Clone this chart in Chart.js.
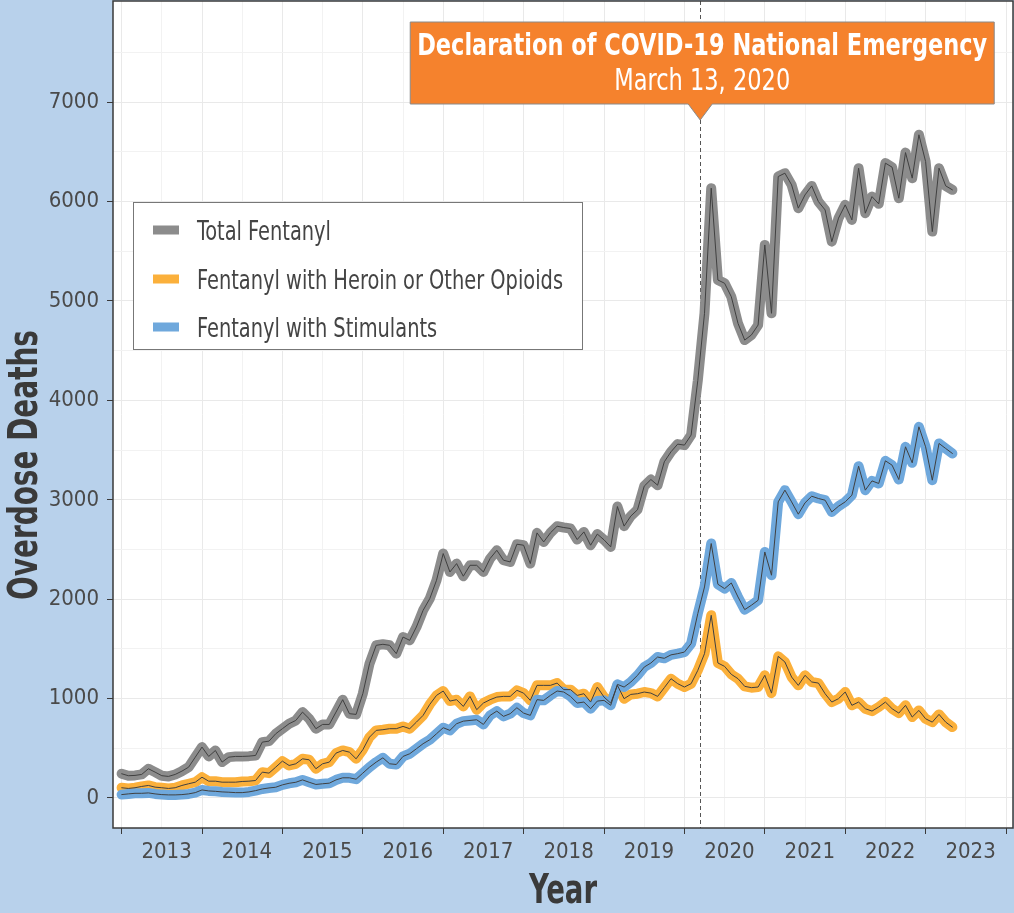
<!DOCTYPE html>
<html><head><meta charset="utf-8">
<style>html,body{margin:0;padding:0;background:#b8d1eb;}canvas{display:block;}</style>
<script src="https://cdn.jsdelivr.net/npm/chart.js@4.4.1/dist/chart.umd.min.js"></script>
</head><body>
<canvas id="c" width="1014" height="913" style="width:1014px;height:913px"></canvas>
<script>
// ---- data (monthly overdose deaths, Jan 2013 onward) ----
const START_YEAR = 2013;
const totalFentanyl = [
 244,224,227,237,294,260,224,217,237,270,310,411,
 512,418,478,361,411,418,418,421,428,562,572,646,
 697,747,780,864,797,697,740,740,864,989,848,841,
 1049,1351,1536,1546,1536,1452,1619,1586,1720,1888,2006,2190,
 2459,2274,2358,2231,2341,2341,2274,2409,2492,2392,2375,2553,
 2543,2358,2667,2576,2667,2734,2721,2711,2600,2677,2543,2655,
 2597,2526,2932,2735,2836,2900,3137,3204,3147,3382,3483,3560,
 3550,3651,4200,4876,6135,5211,5178,5043,4775,4607,4658,4758,
 5564,4876,6252,6286,6168,5934,6067,6158,6000,5916,5597,5833,
 5967,5816,6336,5883,6050,5977,6387,6346,6034,6493,6236,6672,
 6403,5698,6336,6158,6118
];
const heroinOther = [
 103,96,103,116,126,109,103,96,103,126,143,159,
 209,169,169,159,159,159,166,169,176,260,250,310,
 371,327,344,394,384,294,344,361,451,478,461,394,
 485,612,680,687,697,697,720,697,763,831,942,1032,
 1076,975,989,921,1022,888,955,989,1015,1022,1022,1083,
 1055,982,1133,1133,1133,1156,1090,1090,1032,1049,965,1116,
 1015,955,1133,999,1042,1049,1066,1055,1022,1110,1200,1150,
 1116,1150,1284,1452,1838,1358,1324,1244,1200,1123,1110,1116,
 1234,1055,1425,1368,1217,1133,1234,1167,1156,1049,965,999,
 1066,932,965,898,874,915,965,898,854,932,814,881,
 797,763,841,763,713
];
const stimulants = [
 34,41,47,47,51,41,34,31,31,34,41,54,
 81,71,67,61,58,54,54,61,74,91,101,108,
 132,148,158,182,158,136,143,149,182,203,203,189,
 250,310,361,404,344,337,418,445,495,546,586,646,
 707,680,747,773,780,787,740,831,874,821,848,908,
 854,831,989,982,1032,1076,1066,1022,955,965,898,975,
 982,932,1143,1116,1166,1234,1317,1358,1418,1405,1440,1452,
 1468,1553,1855,2123,2560,2150,2106,2163,2022,1895,1939,1989,
 2475,2241,2979,3097,2979,2855,2969,3036,3013,2996,2878,2935,
 2979,3046,3338,3097,3190,3164,3392,3348,3204,3533,3372,3734,
 3533,3197,3567,3516,3466
];
const seriesLabels = ['Total Fentanyl', 'Fentanyl with Heroin or Other Opioids', 'Fentanyl with Stimulants'];
const yearLabels = ['2013','2014','2015','2016','2017','2018','2019','2020','2021','2022','2023'];
const yTickLabels = ['0','1000','2000','3000','4000','5000','6000','7000'];
const covidDate = 2020 + (31 + 29 + 12) / 366; // March 13, 2020
const annotationTitle = 'Declaration of COVID-19 National Emergency';
const annotationSub = 'March 13, 2020';
const xTitle = 'Year';
const yTitle = 'Overdose Deaths';

// ---- styling ----
const FONT = "'DejaVu Sans Condensed', 'Liberation Sans Narrow', 'Roboto', sans-serif";
const BG = '#b8d1eb';
const seriesColors = ['#8c8c8c', '#fbb03b', '#6fa8dc'];
const innerLine = '#404040';

const monthPos = totalFentanyl.map((_, i) => START_YEAR + i / 12);
const toPts = arr => arr.map((v, i) => ({x: monthPos[i], y: v}));

function ds(values, color, width, order, label) {
  return {label, data: toPts(values), borderColor: color, backgroundColor: color,
    borderWidth: width, pointRadius: 0, pointHoverRadius: 0, fill: false, tension: 0,
    borderJoinStyle: 'round', borderCapStyle: 'round', order};
}

const xTickVals = [];
for (let y = 2013; y <= 2024; y += 0.5) xTickVals.push(y);
const yTickVals = [];
for (let v = 0; v <= 7500; v += 500) yTickVals.push(v);

// draw text squeezed horizontally to a target width (condensed face look)
function fillFit(ctx, text, x, y, targetW, align) {
  const w = ctx.measureText(text).width;
  const sx = Math.min(1, targetW / w);
  ctx.save();
  ctx.translate(x, y);
  ctx.scale(sx, 1);
  ctx.textAlign = align;
  ctx.fillText(text, 0, 0);
  ctx.restore();
  return sx;
}

const bgPlugin = {
  id: 'bg',
  beforeDraw(chart) {
    const {ctx, chartArea: a} = chart;
    ctx.save();
    ctx.fillStyle = BG;
    ctx.fillRect(0, 0, chart.width, chart.height);
    ctx.fillStyle = '#ffffff';
    ctx.fillRect(a.left, a.top, a.right - a.left, a.bottom - a.top);
    ctx.restore();
  },
  beforeDatasetsDraw(chart) {
    const {ctx, chartArea: a} = chart;
    const x = Math.round(chart.scales.x.getPixelForValue(covidDate)) + 0.5;
    ctx.save();
    ctx.strokeStyle = '#555';
    ctx.lineWidth = 1;
    ctx.setLineDash([4, 3]);
    ctx.beginPath(); ctx.moveTo(x, a.top); ctx.lineTo(x, a.bottom); ctx.stroke();
    ctx.restore();
  },
  afterDatasetsDraw(chart) {
    const {ctx, chartArea: a} = chart;
    // plot frame
    ctx.save();
    ctx.strokeStyle = '#3a3a3a';
    ctx.lineWidth = 1.5;
    ctx.strokeRect(a.left, a.top, a.right - a.left, a.bottom - a.top);
    ctx.restore();

    // annotation callout
    const cx = chart.scales.x.getPixelForValue(covidDate);
    const bl = cx - 290, br = cx + 294, bt = 22, bb = 104, tip = 120;
    ctx.save();
    ctx.fillStyle = '#f5822d';
    ctx.strokeStyle = '#8a8a8a';
    ctx.lineWidth = 1;
    ctx.beginPath();
    ctx.moveTo(bl, bt); ctx.lineTo(br, bt); ctx.lineTo(br, bb);
    ctx.lineTo(cx + 12, bb); ctx.lineTo(cx, tip); ctx.lineTo(cx - 12, bb);
    ctx.lineTo(bl, bb); ctx.closePath();
    ctx.fill(); ctx.stroke();
    ctx.fillStyle = '#ffffff';
    ctx.textBaseline = 'alphabetic';
    ctx.font = "bold 31px " + FONT;
    fillFit(ctx, annotationTitle, (bl + br) / 2, 55, 570, 'center');
    ctx.font = "300 30px " + FONT;
    fillFit(ctx, annotationSub, (bl + br) / 2, 90, 176, 'center');
    ctx.restore();

    // legend
    const lx = 133.5, ly = 202.5, lw = 449, lh = 147;
    ctx.save();
    ctx.fillStyle = '#ffffff';
    ctx.fillRect(lx, ly, lw, lh);
    ctx.strokeStyle = '#777';
    ctx.lineWidth = 1;
    ctx.strokeRect(lx, ly, lw, lh);
    const rows = [230, 279, 327];
    ctx.font = "27px " + FONT;
    ctx.textBaseline = 'alphabetic';
    const sx = 366 / ctx.measureText(seriesLabels[1]).width;
    seriesLabels.forEach((lab, i) => {
      ctx.fillStyle = seriesColors[i];
      ctx.fillRect(153, rows[i] - 4.5, 26, 9);
      ctx.fillStyle = '#444';
      const w = ctx.measureText(lab).width * sx;
      fillFit(ctx, lab, 197, rows[i] + 9.5, w, 'left');
    });
    ctx.restore();

    // axis titles
    ctx.save();
    ctx.fillStyle = '#3a3a3a';
    ctx.font = "bold 40px " + FONT;
    ctx.textBaseline = 'alphabetic';
    fillFit(ctx, xTitle, (a.left + a.right) / 2, 903, 68, 'center');
    ctx.translate(37, 465);
    ctx.rotate(-Math.PI / 2);
    fillFit(ctx, yTitle, 0, 0, 270, 'center');
    ctx.restore();
  }
};

const isInt = v => Math.abs(v - Math.round(v)) < 1e-6;

new Chart(document.getElementById('c'), {
  type: 'line',
  data: {
    datasets: [
      ds(stimulants, innerLine, 1, 0),
      ds(heroinOther, innerLine, 1, 1),
      ds(totalFentanyl, innerLine, 1, 2),
      ds(stimulants, seriesColors[2], 10, 3, seriesLabels[2]),
      ds(heroinOther, seriesColors[1], 10, 4, seriesLabels[1]),
      ds(totalFentanyl, seriesColors[0], 10, 5, seriesLabels[0])
    ]
  },
  options: {
    responsive: false,
    animation: false,
    devicePixelRatio: 1,
    events: [],
    layout: {padding: {top: 1, right: 1, left: 0, bottom: 0}},
    plugins: {legend: {display: false}, tooltip: {enabled: false}, title: {display: false}},
    scales: {
      x: {
        type: 'linear',
        min: 2012.893, max: 2024.087,
        afterBuildTicks: s => { s.ticks = xTickVals.map(v => ({value: v})); },
        afterFit: s => { s.height = 85; s.paddingLeft = 0; s.paddingRight = 0; },
        border: {display: false},
        grid: {
          color: c => isInt(c.tick.value) ? '#e9e9e9' : '#f2f2f2',
          tickColor: c => isInt(c.tick.value) ? '#3a3a3a' : 'rgba(0,0,0,0)',
          tickLength: 6, lineWidth: 1, drawTicks: true
        },
        ticks: {
          autoSkip: false, maxRotation: 0, minRotation: 0, padding: 5, labelOffset: 45,
          color: '#4a4a4a', font: {family: FONT, size: 22},
          callback: v => {
            const idx = Math.round(v) - START_YEAR;
            return isInt(v) && idx >= 0 && idx < yearLabels.length ? yearLabels[idx] : '';
          }
        },
        title: {display: false}
      },
      y: {
        type: 'linear',
        min: -302, max: 8018,
        afterBuildTicks: s => { s.ticks = yTickVals.map(v => ({value: v})); },
        afterFit: s => { s.width = 113; s.paddingTop = 0; s.paddingBottom = 0; },
        border: {display: false},
        grid: {
          color: c => (c.tick.value % 1000 === 0) ? '#e9e9e9' : '#f2f2f2',
          tickColor: c => (c.tick.value % 1000 === 0) ? '#3a3a3a' : 'rgba(0,0,0,0)',
          tickLength: 6, lineWidth: 1, drawTicks: true
        },
        ticks: {
          padding: 8, color: '#4a4a4a', font: {family: FONT, size: 22},
          callback: v => (v % 1000 === 0 && v / 1000 < yTickLabels.length) ? yTickLabels[v / 1000] : ''
        }
      }
    }
  },
  plugins: [bgPlugin]
});
</script>
</body></html>
